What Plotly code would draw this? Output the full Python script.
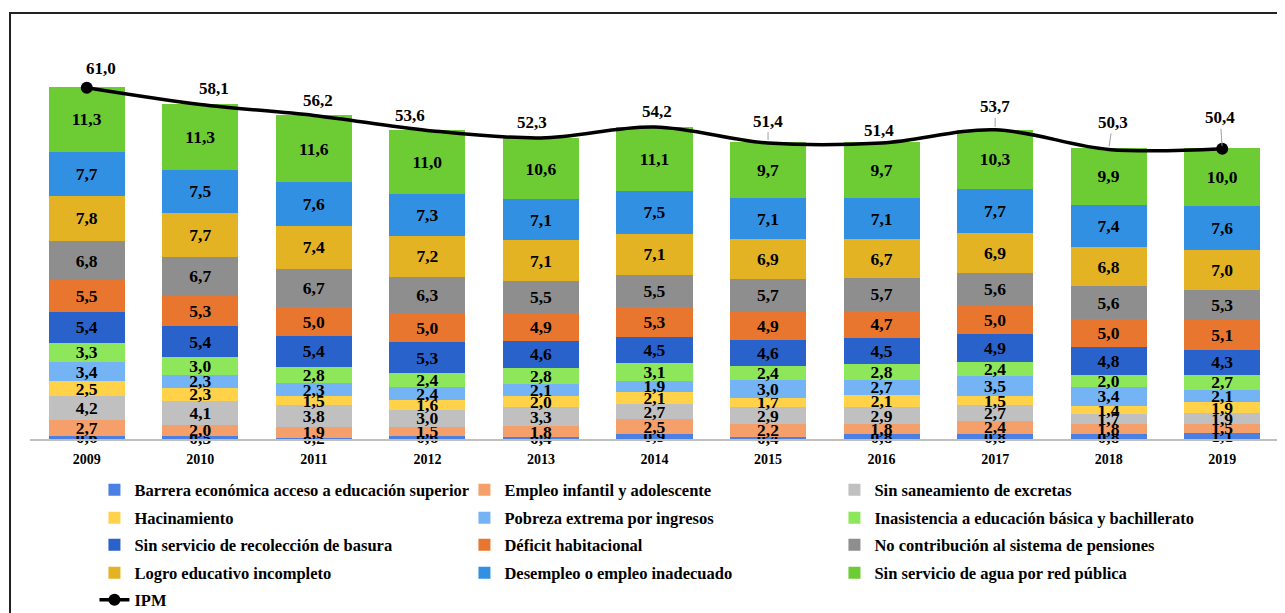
import plotly.graph_objects as go

years = ["2009", "2010", "2011", "2012", "2013", "2014", "2015", "2016", "2017", "2018", "2019"]

barrera = [0.6, 0.5, 0.2, 0.6, 0.4, 0.9, 0.4, 0.8, 0.8, 0.8, 1.1]
empleo = [2.7, 2.0, 1.9, 1.5, 1.8, 2.5, 2.2, 1.8, 2.4, 1.8, 1.5]
saneamiento = [4.2, 4.1, 3.8, 3.0, 3.3, 2.7, 2.9, 2.9, 2.7, 1.7, 1.9]
hacinamiento = [2.5, 2.3, 1.5, 1.6, 2.0, 2.1, 1.7, 2.1, 1.5, 1.4, 1.9]
pobreza = [3.4, 2.3, 2.3, 2.4, 2.1, 1.9, 3.0, 2.7, 3.5, 3.4, 2.1]
inasistencia = [3.3, 3.0, 2.8, 2.4, 2.8, 3.1, 2.4, 2.8, 2.4, 2.0, 2.7]
basura = [5.4, 5.4, 5.4, 5.3, 4.6, 4.5, 4.6, 4.5, 4.9, 4.8, 4.3]
deficit = [5.5, 5.3, 5.0, 5.0, 4.9, 5.3, 4.9, 4.7, 5.0, 5.0, 5.1]
pensiones = [6.8, 6.7, 6.7, 6.3, 5.5, 5.5, 5.7, 5.7, 5.6, 5.6, 5.3]
logro = [7.8, 7.7, 7.4, 7.2, 7.1, 7.1, 6.9, 6.7, 6.9, 6.8, 7.0]
desempleo = [7.7, 7.5, 7.6, 7.3, 7.1, 7.5, 7.1, 7.1, 7.7, 7.4, 7.6]
agua = [11.3, 11.3, 11.6, 11.0, 10.6, 11.1, 9.7, 9.7, 10.3, 9.9, 10.0]

ipm = [61.0, 58.1, 56.2, 53.6, 52.3, 54.2, 51.4, 51.4, 53.7, 50.3, 50.4]

series = [
    ("Barrera económica acceso a educación superior", barrera, "#4A7FE3"),
    ("Empleo infantil y adolescente", empleo, "#F5A06A"),
    ("Sin saneamiento de excretas", saneamiento, "#C0C0C0"),
    ("Hacinamiento", hacinamiento, "#FFD24A"),
    ("Pobreza extrema por ingresos", pobreza, "#74B4F4"),
    ("Inasistencia a educación básica y bachillerato", inasistencia, "#8EE65A"),
    ("Sin servicio de recolección de basura", basura, "#2A62CC"),
    ("Déficit habitacional", deficit, "#E8762E"),
    ("No contribución al sistema de pensiones", pensiones, "#8E8E8E"),
    ("Logro educativo incompleto", logro, "#E3B324"),
    ("Desempleo o empleo inadecuado", desempleo, "#3290E2"),
    ("Sin servicio de agua por red pública", agua, "#6DCC33"),
]

# label offsets (px) for IPM labels: (dx, dy, leader)
label_offsets = [(14, -19, False), (14, -16, False), (4, -15, False), (-17, -15, False),
                 (-9, -15, False), (2, -15, False), (0, -22, True), (-3, -13, False),
                 (0, -23, True), (4, -27, True), (-2, -31, True)]

FONT = "Liberation Serif"
legend_ids = ["legend", "legend2", "legend3", "legend4", "legend5"]
legend_rows_y = [-0.134, -0.208, -0.279, -0.353, -0.424]


def fmt(v):
    return f"{v:.1f}".replace(".", ",")


fig = go.Figure()
for k, (name, vals, color) in enumerate(series):
    fig.add_trace(go.Bar(
        x=years, y=vals, name=name, legend=legend_ids[k // 3],
        marker=dict(color=color, line=dict(width=0)),
        text=[fmt(v) for v in vals],
        textposition="inside", insidetextanchor="middle",
        constraintext="none", textangle=0, cliponaxis=False,
        textfont=dict(family=FONT, size=17.5, color="black", weight="bold"),
    ))

fig.add_trace(go.Scatter(
    x=years, y=ipm, name="IPM", mode="lines+markers", legend="legend5",
    line=dict(color="black", width=3.5, shape="spline", smoothing=1),
    marker=dict(size=12, color=["black"] + ["rgba(0,0,0,0)"] * (len(ipm) - 2) + ["black"]),
    cliponaxis=False,
))

annotations = []
for i, (v, (dx, dy, leader)) in enumerate(zip(ipm, label_offsets)):
    base = dict(x=i, y=v, xref="x", yref="y", text=fmt(v),
                font=dict(family=FONT, size=17, color="black", weight="bold"))
    if leader:
        base.update(showarrow=True, arrowhead=0, arrowwidth=1, arrowcolor="#A0A0A0",
                    ax=dx, ay=dy, standoff=3)
    else:
        base.update(showarrow=False, xshift=dx, yshift=-dy)
    annotations.append(base)

legend_common = dict(orientation="h", x=0.0516, xanchor="left", yanchor="middle",
                     entrywidth=325, entrywidthmode="pixels", traceorder="normal",
                     bgcolor="rgba(0,0,0,0)",
                     font=dict(family=FONT, size=16.5, color="black", weight="bold"))
legend_layout = {lid: dict(legend_common, y=ly) for lid, ly in zip(legend_ids, legend_rows_y)}

fig.update_layout(
    width=1277, height=605,
    barmode="stack", bargap=0.33,
    paper_bgcolor="white", plot_bgcolor="white",
    margin=dict(l=22, r=6, t=51, b=174, autoexpand=False),
    font=dict(family=FONT, color="black"),
    annotations=annotations,
    showlegend=True,
    shapes=[dict(type="rect", xref="paper", yref="paper",
                 x0=-0.016, x1=1.03, y0=-0.6, y1=1.121,
                 line=dict(color="#222222", width=2), fillcolor="rgba(0,0,0,0)", layer="above")],
    **legend_layout,
)
fig.update_xaxes(type="category", range=[-0.5, 10.5], showline=True, linecolor="#BFBFBF", linewidth=1.5,
                 showgrid=False, ticks="", ticklabelstandoff=6,
                 tickfont=dict(family=FONT, size=14, color="black", weight="bold"))
fig.update_yaxes(range=[0, 66], visible=False, showgrid=False)

fig.write_html("out.html")
